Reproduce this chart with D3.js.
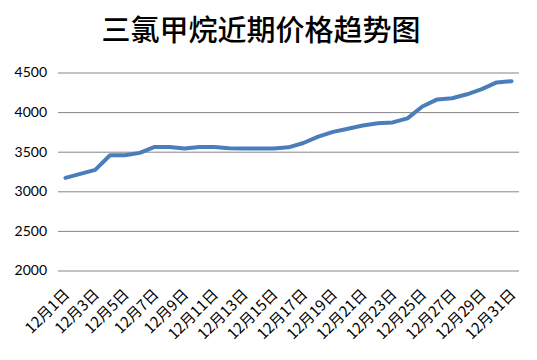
<!DOCTYPE html>
<html><head><meta charset="utf-8">
<script src="https://cdn.jsdelivr.net/npm/d3@7"></script>
<style>body{margin:0;background:#fff}</style>
</head><body>
<script>
const title = "三氯甲烷近期价格趋势图";
const days = d3.range(1, 32).map(d => "12月" + d + "日");
const prices = [3170,3220,3270,3455,3455,3485,3560,3560,3540,3560,3560,3545,3540,3540,3540,3555,3610,3690,3750,3790,3830,3860,3870,3920,4070,4160,4175,4225,4290,4375,4390];
const yTicks = [2000,2500,3000,3500,4000,4500];

const W = 537, H = 360;
const svg = d3.select("body").append("svg").attr("width", W).attr("height", H);

const x = d3.scaleBand().domain(days).range([58, 519]);
const y = d3.scaleLinear().domain([2000, 4500]).range([270.5, 72.5]);

svg.append("text").attr("x", 261).attr("y", 41).attr("text-anchor","middle")
  .attr("font-family","'Noto Sans CJK SC'").attr("font-size", 29).attr("font-weight", 500)
  .attr("fill","#000").text(title);

const ya = svg.append("g").attr("transform","translate(58,0)")
  .call(d3.axisLeft(y).tickValues(yTicks).tickSize(-(519-58)).tickPadding(11).tickFormat(d3.format("d")));
ya.select(".domain").remove();
ya.selectAll(".tick line").attr("stroke","#868686").attr("stroke-width",1);
ya.selectAll(".tick text").attr("font-family","Lato, 'Open Sans', sans-serif").attr("font-size",14).attr("fill","#000");

const xa = svg.append("g").attr("transform","translate(0,270.5)")
  .call(d3.axisBottom(x).tickValues(days.filter((d,i)=>i%2===0)).tickSize(0).tickPadding(0));
xa.select(".domain").remove();
xa.selectAll(".tick text")
  .attr("font-family","'Noto Sans CJK SC', sans-serif").attr("font-size",15).attr("fill","#000")
  .attr("text-anchor","end").attr("dy",null)
  .attr("transform","translate(5,25) rotate(-45)");

const line = d3.line().x((d,i)=>x(days[i]) + x.bandwidth()/2).y(d=>y(d));
svg.append("path").datum(prices).attr("d", line).attr("fill","none")
  .attr("stroke","#4A7EBB").attr("stroke-width",4).attr("stroke-linejoin","round").attr("stroke-linecap","round");
</script>
</body></html>
